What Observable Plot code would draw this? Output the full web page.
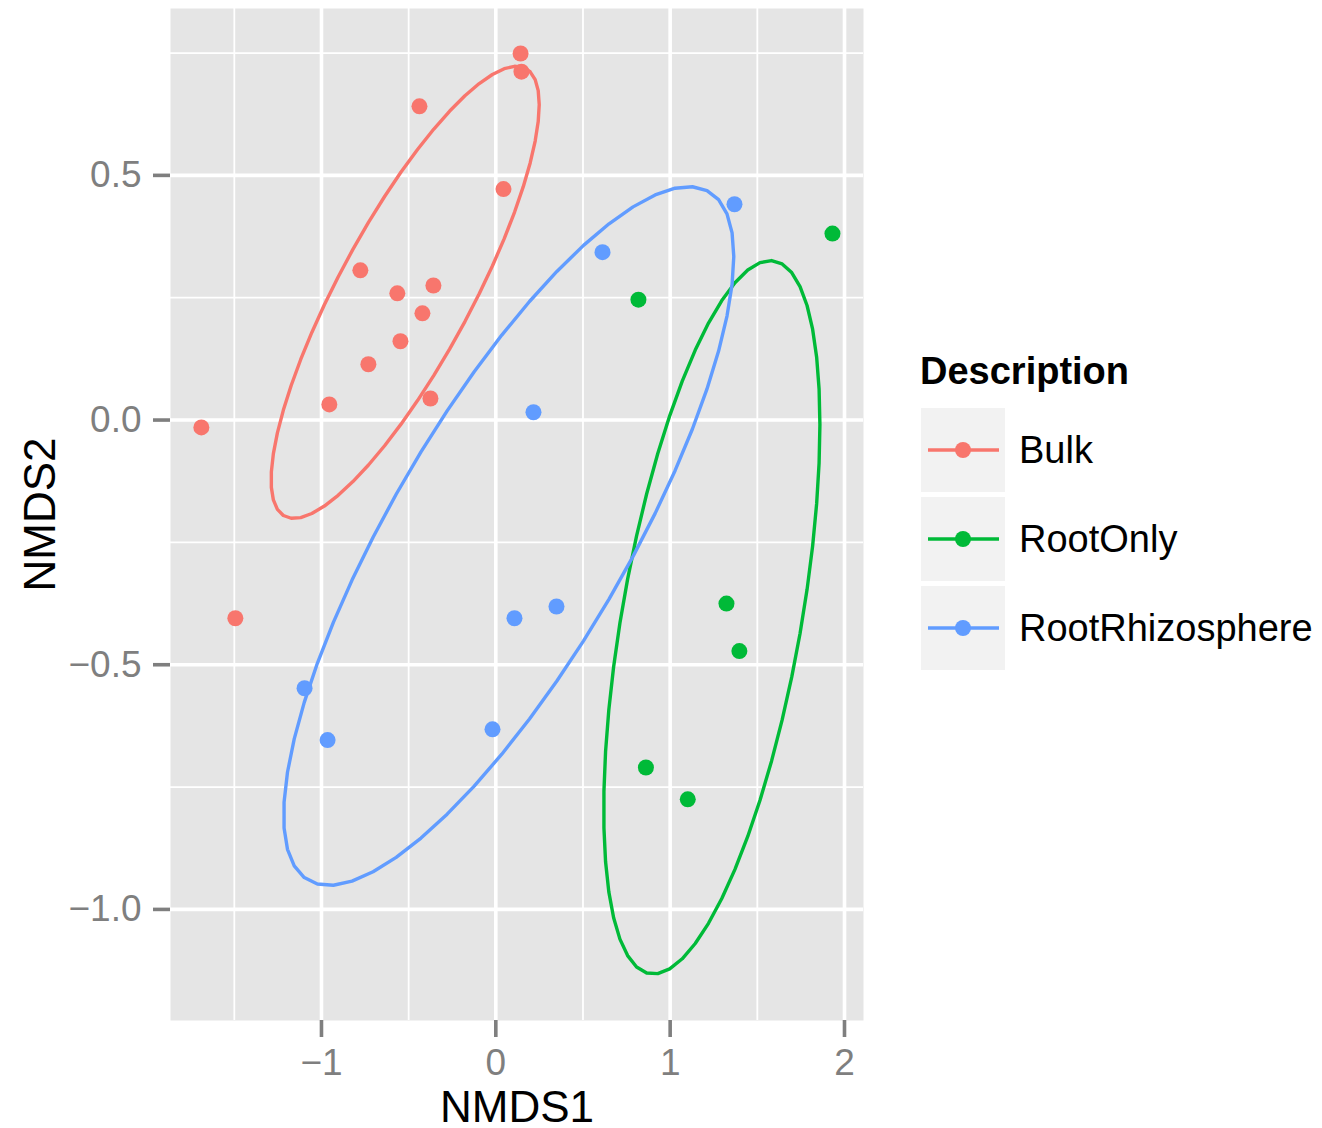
<!DOCTYPE html>
<html><head><meta charset="utf-8">
<script src="https://cdn.jsdelivr.net/npm/d3@7"></script>
<script src="https://cdn.jsdelivr.net/npm/@observablehq/plot@0.6"></script>
<style>
body{margin:0;background:#fff;}
#wrap{position:relative;width:1322px;height:1128px;font-family:"Liberation Sans",Arial,Helvetica,sans-serif;color:#000;}
#chart{position:absolute;left:0;top:0;}
#legend{position:absolute;left:0;top:0;}
</style></head><body><div id="wrap"><div id="chart"></div><div id="legend"></div></div>
<script>
// ---- data ----
const groups = ["Bulk", "RootOnly", "RootRhizosphere"];
const colors = ["#F8766D", "#00BA38", "#619CFF"];

const bulkX = [0.142, 0.147, -0.438, 0.044, -0.777, -0.565, -0.358, -0.421, -0.547, -0.731, -0.955, -0.375, -1.689, -1.494];
const bulkY = [0.749, 0.712, 0.641, 0.472, 0.306, 0.259, 0.275, 0.218, 0.161, 0.114, 0.032, 0.044, -0.015, -0.405];

const rootOnlyX = [1.931, 0.818, 1.323, 1.397, 0.861, 1.101];
const rootOnlyY = [0.381, 0.246, -0.375, -0.472, -0.710, -0.775];

const rhizoX = [1.369, 0.612, 0.216, 0.107, 0.348, -1.097, -0.965, -0.019];
const rhizoY = [0.441, 0.343, 0.016, -0.405, -0.381, -0.548, -0.654, -0.632];

// 95% ellipse per group (stat_ellipse):
// centre, half-extent along x and y, and x–y correlation of the shape
const ellipseCx  = [-0.520, 1.239, 0.074];
const ellipseCy  = [0.261, -0.403, -0.237];
const ellipseHx  = [0.769, 0.620, 1.291];
const ellipseHy  = [0.462, 0.729, 0.714];
const ellipseRho = [0.830, 0.540, 0.800];

const xTicks = [-1, 0, 1, 2];
const xMinor = [-1.5, -0.5, 0.5, 1.5];
const yTicks = [-1, -0.5, 0, 0.5];
const yMinor = [-0.75, -0.25, 0.25, 0.75];
const xDomain = [-1.866, 2.109];
const yDomain = [-1.227, 0.841];

// ---- build tables ----
const series = [[bulkX, bulkY], [rootOnlyX, rootOnlyY], [rhizoX, rhizoY]];
const points = series.flatMap(([xs, ys], g) => xs.map((x, i) => ({group: groups[g], x, y: ys[i]})));

// ellipse outline as stat_ellipse draws it: centre + radius * unit circle %*% chol(shape), 51 segments
const segments = 51;
const ellipses = groups.flatMap((group, g) => {
  const delta = Math.acos(ellipseRho[g]);
  return d3.range(segments + 1).map(k => {
    const t = k * 2 * Math.PI / segments;
    return {group, x: ellipseCx[g] + ellipseHx[g] * Math.cos(t), y: ellipseCy[g] + ellipseHy[g] * Math.cos(t - delta)};
  });
});

const xFmt = d3.format("d");
const yFmt = d3.format(".1f");

const plot = Plot.plot({
  width: 880, height: 1128,
  marginLeft: 170, marginRight: 17, marginTop: 8, marginBottom: 108,
  style: {fontFamily: "'Liberation Sans', Arial, Helvetica, sans-serif", background: "transparent", overflow: "visible"},
  x: {domain: xDomain},
  y: {domain: yDomain},
  color: {domain: groups, range: colors},
  marks: [
    Plot.frame({fill: "#E5E5E5"}),
    Plot.ruleX(xMinor, {stroke: "white", strokeWidth: 1.8}),
    Plot.ruleY(yMinor, {stroke: "white", strokeWidth: 1.8}),
    Plot.ruleX(xTicks, {stroke: "white", strokeWidth: 3.6}),
    Plot.ruleY(yTicks, {stroke: "white", strokeWidth: 3.6}),
    Plot.axisX({ticks: xTicks, tickSize: 17, tickPadding: 11, fontSize: 37, color: "#7F7F7F", strokeWidth: 3.6, tickFormat: xFmt, label: null}),
    Plot.axisY({ticks: yTicks, tickSize: 17, tickPadding: 12, fontSize: 37, color: "#7F7F7F", strokeWidth: 3.6, tickFormat: yFmt, label: null}),
    Plot.dot(points, {x: "x", y: "y", fill: "group", r: 8}),
    Plot.line(ellipses, {x: "x", y: "y", stroke: "group", z: "group", strokeWidth: 3.4}),
    Plot.text(["NMDS1"], {text: d => d, frameAnchor: "bottom", lineAnchor: "middle", textAnchor: "middle", dy: 87, fontSize: 44, fill: "black"}),
    Plot.text(["NMDS2"], {text: d => d, frameAnchor: "left", lineAnchor: "middle", textAnchor: "middle", dx: -130, rotate: -90, fontSize: 44, fill: "black"})
  ]
});
document.getElementById("chart").appendChild(plot);

// ---- legend (HTML, colours from the plot's own colour scale) ----
const cs = plot.scale("color");
const legend = document.getElementById("legend");
legend.innerHTML =
  `<div style="position:absolute;left:920px;top:349px;font-weight:700;font-size:38px;line-height:45px;white-space:nowrap">Description</div>` +
  groups.map((g, i) => {
    const col = cs.apply(g);
    return `<div style="position:absolute;left:921px;top:${408 + i * 89}px;height:84px;display:flex;align-items:center;white-space:nowrap">` +
      `<svg width="84" height="84" style="background:#F2F2F2;display:block"><line x1="7" x2="78" y1="42" y2="42" stroke="${col}" stroke-width="3.6"/><circle cx="42" cy="42" r="8" fill="${col}"/></svg>` +
      `<span style="margin-left:14px;font-size:38px;line-height:84px">${g}</span></div>`;
  }).join("");
</script>
</body></html>
